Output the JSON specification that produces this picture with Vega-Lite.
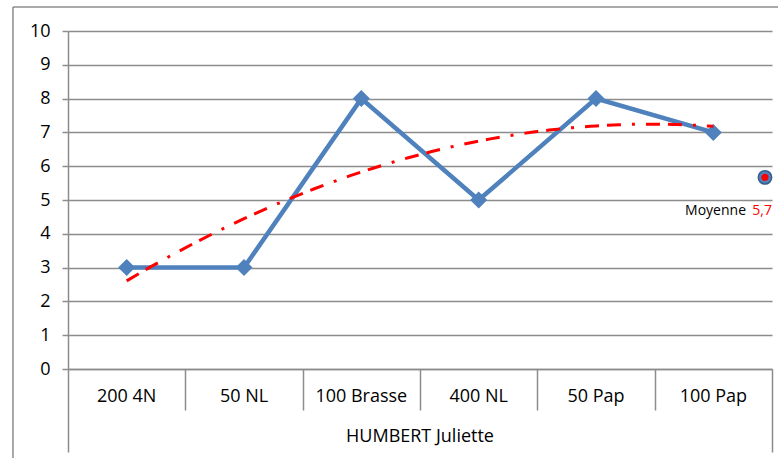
{
  "$schema": "https://vega.github.io/schema/vega-lite/v6.json",
  "width": 704,
  "height": 338,
  "autosize": {"type": "none"},
  "padding": {"left": 68, "top": 31, "right": 6, "bottom": 89},
  "background": "white",
  "config": {
    "view": {"stroke": null},
    "font": "Open Sans",
    "text": {"font": "Open Sans"},
    "axisY": {
      "values": [0, 1, 2, 3, 4, 5, 6, 7, 8, 9, 10],
      "tickCount": 11,
      "labelOverlap": false,
      "grid": true,
      "gridColor": "#8c8c8c",
      "gridWidth": 1.5,
      "domainColor": "#8c8c8c",
      "domainWidth": 1.5,
      "tickColor": "#8c8c8c",
      "tickWidth": 1.5,
      "tickSize": 6,
      "labelPadding": 12,
      "labelFontSize": 18,
      "labelColor": "#000000",
      "labelFont": "Open Sans",
      "title": null
    },
    "axisX": {
      "values": [0.5, 1.5, 2.5, 3.5, 4.5, 5.5, 6.5],
      "labels": false,
      "grid": false,
      "title": null,
      "domainColor": "#8c8c8c",
      "domainWidth": 1.5,
      "tickColor": "#8c8c8c",
      "tickWidth": 1.5,
      "tickSize": {"condition": {"test": "datum.value < 1 || datum.value > 6", "value": 83}, "value": 41}
    }
  },
  "datasets": {
    "scores": [
      {"idx": 1, "event": "200 4N", "score": 3},
      {"idx": 2, "event": "50 NL", "score": 3},
      {"idx": 3, "event": "100 Brasse", "score": 8},
      {"idx": 4, "event": "400 NL", "score": 5},
      {"idx": 5, "event": "50 Pap", "score": 8},
      {"idx": 6, "event": "100 Pap", "score": 7}
    ],
    "moyenne": [{"label": "Moyenne", "value": 5.67, "text": "5,7"}],
    "swimmer": [{"name": "HUMBERT Juliette"}]
  },
  "layer": [
    {
      "data": {"name": "scores"},
      "mark": {"type": "line", "color": "#4F81BD", "strokeWidth": 4.5},
      "encoding": {
        "x": {
          "field": "idx",
          "type": "quantitative",
          "scale": {"domain": [0.5, 6.5], "nice": false, "zero": false},
          "axis": {"values": [0.5, 1.5, 2.5, 3.5, 4.5, 5.5, 6.5]}
        },
        "y": {
          "field": "score",
          "type": "quantitative",
          "scale": {"domain": [0, 10], "nice": false},
          "axis": {"values": [0, 1, 2, 3, 4, 5, 6, 7, 8, 9, 10]}
        }
      }
    },
    {
      "data": {"name": "swimmer"},
      "mark": {"type": "rule", "color": "#8c8c8c", "strokeWidth": 1.5},
      "encoding": {
        "x": {"datum": 0.031, "type": "quantitative", "axis": {"values": [0.5, 1.5, 2.5, 3.5, 4.5, 5.5, 6.5]}},
        "y": {"datum": 10.71, "type": "quantitative", "axis": {"values": [0, 1, 2, 3, 4, 5, 6, 7, 8, 9, 10]}},
        "y2": {"datum": -2.8}
      }
    },
    {
      "data": {"name": "swimmer"},
      "mark": {"type": "rule", "color": "#8c8c8c", "strokeWidth": 1.5},
      "encoding": {
        "x": {"datum": 0.031, "type": "quantitative", "axis": {"values": [0.5, 1.5, 2.5, 3.5, 4.5, 5.5, 6.5]}},
        "x2": {"datum": 6.8},
        "y": {"datum": 10.71, "type": "quantitative", "axis": {"values": [0, 1, 2, 3, 4, 5, 6, 7, 8, 9, 10]}}
      }
    },
    {
      "data": {"name": "scores"},
      "mark": {"type": "point", "shape": "diamond", "filled": true, "color": "#4F81BD", "size": 290, "opacity": 1},
      "encoding": {
        "x": {"field": "idx", "type": "quantitative"},
        "y": {"field": "score", "type": "quantitative"}
      }
    },
    {
      "data": {"name": "scores"},
      "transform": [
        {"regression": "score", "on": "idx", "method": "poly", "order": 2, "extent": [1, 6]}
      ],
      "mark": {"type": "line", "color": "#FF0000", "strokeWidth": 3, "strokeDash": [14, 8, 14, 11, 3, 11]},
      "encoding": {
        "x": {"field": "idx", "type": "quantitative"},
        "y": {"field": "score", "type": "quantitative"}
      }
    },
    {
      "data": {"name": "scores"},
      "mark": {"type": "text", "fontSize": 18, "color": "#000000", "baseline": "middle", "align": "center"},
      "encoding": {
        "x": {"field": "idx", "type": "quantitative"},
        "y": {"datum": -0.83, "type": "quantitative", "axis": {"values": [0, 1, 2, 3, 4, 5, 6, 7, 8, 9, 10]}},
        "text": {"field": "event"}
      }
    },
    {
      "data": {"name": "swimmer"},
      "mark": {"type": "text", "fontSize": 18, "color": "#000000", "baseline": "middle", "align": "center"},
      "encoding": {
        "x": {"datum": 3.5, "type": "quantitative", "axis": {"values": [0.5, 1.5, 2.5, 3.5, 4.5, 5.5, 6.5]}},
        "y": {"datum": -2.02, "type": "quantitative", "axis": {"values": [0, 1, 2, 3, 4, 5, 6, 7, 8, 9, 10]}},
        "text": {"field": "name"}
      }
    },
    {
      "data": {"name": "moyenne"},
      "mark": {"type": "point", "shape": "circle", "filled": true, "color": "#4F81BD", "stroke": "#385D8A", "strokeWidth": 1.5, "size": 180, "opacity": 1},
      "encoding": {
        "x": {"datum": 6.44, "type": "quantitative", "axis": {"values": [0.5, 1.5, 2.5, 3.5, 4.5, 5.5, 6.5]}},
        "y": {"field": "value", "type": "quantitative"}
      }
    },
    {
      "data": {"name": "moyenne"},
      "mark": {"type": "point", "shape": "circle", "filled": true, "color": "#FF0000", "size": 50, "opacity": 1},
      "encoding": {
        "x": {"datum": 6.44, "type": "quantitative", "axis": {"values": [0.5, 1.5, 2.5, 3.5, 4.5, 5.5, 6.5]}},
        "y": {"field": "value", "type": "quantitative"}
      }
    },
    {
      "data": {"name": "moyenne"},
      "mark": {"type": "text", "fontSize": 14, "color": "#FF0000", "align": "right", "baseline": "middle"},
      "encoding": {
        "x": {"datum": 6.5, "type": "quantitative", "axis": {"values": [0.5, 1.5, 2.5, 3.5, 4.5, 5.5, 6.5]}},
        "y": {"datum": 4.68, "type": "quantitative", "axis": {"values": [0, 1, 2, 3, 4, 5, 6, 7, 8, 9, 10]}},
        "text": {"field": "text"}
      }
    },
    {
      "data": {"name": "moyenne"},
      "mark": {"type": "text", "fontSize": 14, "color": "#000000", "align": "right", "baseline": "middle", "dx": -26},
      "encoding": {
        "x": {"datum": 6.5, "type": "quantitative", "axis": {"values": [0.5, 1.5, 2.5, 3.5, 4.5, 5.5, 6.5]}},
        "y": {"datum": 4.68, "type": "quantitative", "axis": {"values": [0, 1, 2, 3, 4, 5, 6, 7, 8, 9, 10]}},
        "text": {"field": "label"}
      }
    }
  ]
}
